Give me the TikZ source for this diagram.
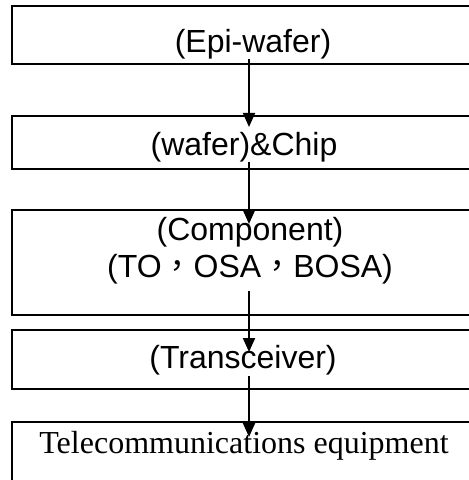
\documentclass[tikz,border=0pt]{standalone}
\usepackage{fontspec}
\setmainfont{Liberation Sans}
\newfontfamily\timesfont{Liberation Serif}
\newfontfamily\cjkfont{Noto Sans CJK TC}
\usetikzlibrary{arrows.meta}
\newcommand{\fwcomma}{{\cjkfont ，}}

\begin{document}
\begin{tikzpicture}[x=0.5pt, y=-0.5pt,
  box/.style={rectangle, draw=black, line width=1pt, minimum width=237pt, inner sep=0pt},
  lbl/.style={inner sep=0pt, font=\fontsize{16}{18.5}\selectfont, align=center},
  arr/.style={line width=1pt, -{Triangle[length=7pt, width=6pt]}}]
\clip (0,0) rectangle (469,480);
% boxes
\node (epi) [box, minimum height=29pt] at (249,35) {};
\node (chip) [box, minimum height=26.5pt] at (249,142.5) {};
\node (comp) [box, minimum height=52.5pt] at (249,262.5) {};
\node (trx) [box, minimum height=29.5pt] at (249,359.5) {};
\node (tele) [box, minimum height=39pt] at (249,461) {};
% texts
\node (epitxt) [lbl] at (253,44) {(Epi-wafer)};
\node (chiptxt) [lbl] at (244,147) {(wafer)\&Chip};
\node (comptxt) [lbl] at (250,251) {(Component)\\(TO\fwcomma OSA\fwcomma BOSA)};
\node (trxtxt) [lbl] at (243,360.5) {(Transceiver)};
\node (teletxt) [lbl, font=\timesfont\fontsize{16}{18.5}\selectfont] at (244,446) {Telecommunications equipment};
% arrows
\draw [arr] (epitxt.south -| chip.north) -- ([yshift=-6pt]chip.north);
\draw [arr] (chiptxt.south -| comp.north) -- ([yshift=-7.5pt]comp.north);
\draw [arr] ([yshift=-3pt]comptxt.south -| trx.north) -- ([yshift=-11.5pt]trx.north);
\draw [arr] (trxtxt.south -| tele.north) -- ([yshift=-8pt]tele.north);
\end{tikzpicture}
\end{document}
